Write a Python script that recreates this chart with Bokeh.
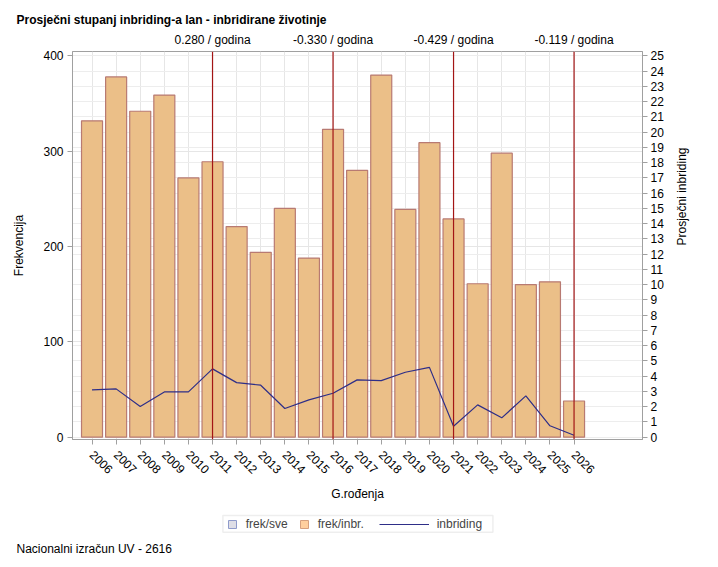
import math
from bokeh.plotting import figure
from bokeh.layouts import column
from bokeh.models import (Range1d, LinearAxis, FixedTicker, Span, Legend, LegendItem,
                          Grid, Title, ColumnDataSource, BoxAnnotation)
from bokeh.embed import file_html
from bokeh.resources import INLINE

# ---- data ----
years = list(range(2006, 2027))
freq_inbr = [332, 378, 342, 359, 272, 289, 221, 194, 240, 188, 323,
             280, 380, 239, 309, 229, 161, 298, 160, 163, 38]
inbreeding = [3.10, 3.17, 2.01, 2.97, 2.97, 4.48, 3.58, 3.41, 1.88, 2.45, 2.88,
              3.76, 3.71, 4.26, 4.58, 0.72, 2.12, 1.27, 2.71, 0.75, 0.13]
breakpoints = [2011, 2016, 2021, 2026]
trend_labels = ["0.280 / godina", "-0.330 / godina", "-0.429 / godina", "-0.119 / godina"]
left_ticks = [0, 100, 200, 300, 400]
right_ticks = list(range(0, 26))

FONT = "Liberation Sans"
FS = "12px"
GRAY = "#A0A0A0"
BAR_FILL = "#EBBF88"
BAR_LINE = "#B87A72"
LINE_COL = "#2E2E88"

src = ColumnDataSource(dict(year=years, freq=freq_inbr, inb=inbreeding))

p = figure(width=702, frame_width=570, frame_height=388,
           min_border_left=72, min_border_right=60, min_border_top=51, min_border_bottom=67,
           x_range=Range1d(2005.19, 2028.84), y_range=Range1d(-2.41, 404.7),
           output_backend="svg", toolbar_location=None)
p.extra_y_ranges = {"right": Range1d(-2.41 / 16, 404.7 / 16)}
p.outline_line_color = GRAY
p.background_fill_color = "white"
p.border_fill_color = "white"

p.title.text = "Prosječni stupanj inbriding-a lan - inbridirane životinje"
p.title.align = "left"
p.title.offset = -56
p.title.text_font = FONT
p.title.text_font_size = FS
p.title.text_font_style = "bold"
p.title.text_color = "#000000"
p.title.standoff = 6

# grids
p.xgrid.grid_line_color = "#E6E6E6"
p.ygrid.grid_line_color = "#E6E6E6"

def style_axis(ax):
    ax.axis_line_color = GRAY
    ax.major_tick_line_color = GRAY
    ax.minor_tick_line_color = None
    ax.major_tick_out = 5
    ax.major_tick_in = 0
    ax.major_label_text_font = FONT
    ax.major_label_text_font_size = FS
    ax.major_label_text_color = "#000000"
    ax.axis_label_text_font = FONT
    ax.axis_label_text_font_size = FS
    ax.axis_label_text_font_style = "normal"
    ax.axis_label_text_color = "#000000"

xa = p.xaxis[0]
xa.ticker = FixedTicker(ticks=years)
xa.major_label_orientation = -math.pi / 4
xa.axis_label = "G.rođenja"
style_axis(xa)
xa.major_label_standoff = 8
xa.axis_label_standoff = 6

ya = p.yaxis[0]
ya.ticker = FixedTicker(ticks=left_ticks)
ya.axis_label = "Frekvencija"
style_axis(ya)
ya.major_label_standoff = 4
ya.axis_label_standoff = 14

ra = LinearAxis(y_range_name="right", ticker=FixedTicker(ticks=right_ticks),
                axis_label="Prosječni inbriding")
style_axis(ra)
ra.major_label_standoff = 3
ra.axis_label_standoff = 15
ra.axis_label_orientation = math.pi / 2
p.add_layout(ra, "right")

p.add_layout(Grid(dimension=1, ticker=ra.ticker, y_range_name="right",
                  grid_line_color="#EDEDED"))

ta = LinearAxis(ticker=FixedTicker(ticks=breakpoints),
                major_label_overrides={b: t for b, t in zip(breakpoints, trend_labels)})
style_axis(ta)
ta.axis_line_color = None
ta.major_tick_line_color = None
ta.major_tick_out = 0
ta.major_label_standoff = 5
p.add_layout(ta, "above")

# glyphs
r_bars = p.vbar(x="year", top="freq", bottom=0, width=0.872, source=src,
                fill_color=BAR_FILL, line_color=BAR_LINE, line_width=1.2)
r_line = p.line(x="year", y="inb", source=src, y_range_name="right",
                line_color=LINE_COL, line_width=1.2)

for b in breakpoints:
    p.add_layout(Span(location=b, dimension="height", line_color="#A31515", line_width=1.2))

# ---- legend strip: a second figure (pixel-unit ranges) holding the legend ----
p2 = figure(width=702, height=51, frame_width=570, frame_height=27,
            min_border_left=72, min_border_right=60, min_border_top=4, min_border_bottom=20,
            x_range=Range1d(0, 570), y_range=Range1d(0, 27),
            x_axis_type=None, y_axis_type=None,
            output_backend="svg", toolbar_location=None)
p2.outline_line_color = None
p2.grid.visible = False
p2.border_fill_color = "white"

# hidden legend proxies (share the data source; only their legend keys are drawn)
k_sve = p2.vbar(x="year", top="freq", width=1, source=src,
                fill_color="#DEDEE6", line_color="#8F9BCB", visible=False)
k_inbr = p2.vbar(x="year", top="freq", width=1, source=src,
                 fill_color="#FFCF9E", line_color="#D6A07E", visible=False)
k_line = p2.line(x="year", y="inb", source=src, line_color=LINE_COL, line_width=1.2,
                 visible=False)

p2.add_layout(BoxAnnotation(left=150.4, right=420.4, bottom=5.3, top=22,
                            fill_alpha=0, line_color="#C8C8C8", line_width=1.5))

leg_kw = dict(orientation="horizontal", border_line_color=None, background_fill_alpha=0,
              label_text_font=FONT, label_text_font_size=FS, label_height=12,
              glyph_height=10, padding=1, margin=0, inactive_fill_alpha=0)
leg1 = Legend(items=[LegendItem(label="frek/sve", renderers=[k_sve]),
                     LegendItem(label="frek/inbr.", renderers=[k_inbr])],
              location=(154.7, 5.7), glyph_width=10, label_standoff=9, spacing=11, **leg_kw)
leg2 = Legend(items=[LegendItem(label="inbriding", renderers=[k_line])],
              location=(306.7, 5.7), glyph_width=50, label_standoff=8, spacing=0, **leg_kw)
p2.add_layout(leg1, "center")
p2.add_layout(leg2, "center")

foot = Title(text="Nacionalni izračun UV - 2616", align="left", offset=-56,
             text_font=FONT, text_font_size=FS, text_font_style="normal",
             text_color="#000000", standoff=5)
p2.add_layout(foot, "below")

layout = column(p, p2, spacing=0)
open("out.html", "w").write(file_html(layout, INLINE))
